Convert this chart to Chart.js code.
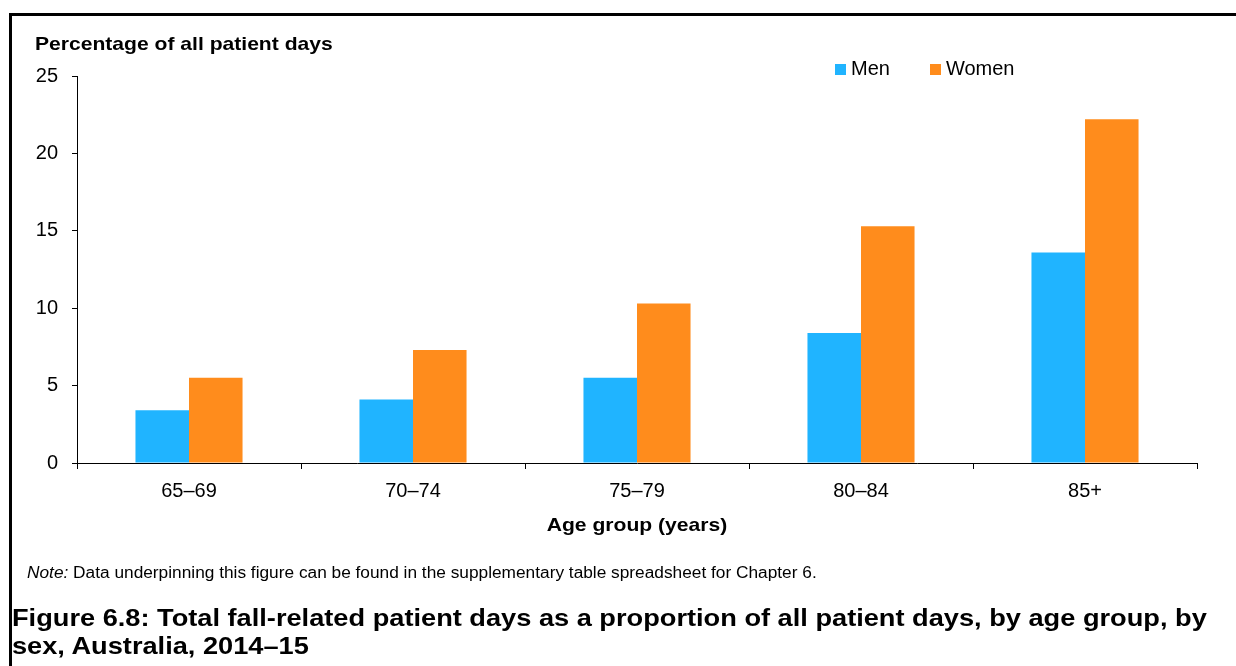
<!DOCTYPE html>
<html>
<head>
<meta charset="utf-8">
<script src="https://cdn.jsdelivr.net/npm/chart.js@4/dist/chart.umd.min.js"></script>
<style>
  html, body { margin: 0; padding: 0; background: #fff; }
  body { width: 1236px; height: 666px; position: relative; overflow: hidden;
         font-family: "Liberation Sans", Arial, sans-serif; color: #000; }
  #chart { position: absolute; left: 0; top: 0; }
  .frame { position: absolute; left: 9px; top: 13px; right: 0; bottom: 0;
           border-top: 3px solid #000; border-left: 3px solid #000; }
  .txt { position: absolute; white-space: nowrap; }
  .wide { transform: scaleX(1.11); transform-origin: left top; }
  .y-title { left: 35px; top: 34px; font: bold 19px/19px "Liberation Sans", Arial, sans-serif; }
  .x-title { left: 637px; top: 515px; font: bold 19px/19px "Liberation Sans", Arial, sans-serif;
             transform: translateX(-50%) scaleX(1.11); transform-origin: center top; }
  .note { left: 27px; top: 564px; font: 17.3px/17px "Liberation Sans", Arial, sans-serif; }
  .fig-title { left: 12px; top: 604px; font: bold 24.5px/28px "Liberation Sans", Arial, sans-serif; }
  #legend { position: absolute; left: 835px; top: 58px; display: flex; gap: 40px;
            font: 20px/20px "Liberation Sans", Arial, sans-serif; }
  #legend .item { display: flex; align-items: center; }
  #legend .box { width: 11px; height: 11px; margin-right: 5px; margin-top: 2px; }
</style>
</head>
<body>
<canvas id="chart" width="1236" height="666"></canvas>
<div class="frame"></div>
<div class="txt wide y-title">Percentage of all patient days</div>
<div id="legend"></div>
<div class="txt x-title">Age group (years)</div>
<div class="txt note"><i>Note:</i> Data underpinning this figure can be found in the supplementary table spreadsheet for Chapter 6.</div>
<div class="txt wide fig-title">Figure 6.8: Total fall-related patient days as a proportion of all patient days, by age group, by<br>sex, Australia, 2014–15</div>

<script>
const ageGroups = ['65–69', '70–74', '75–79', '80–84', '85+'];
const men = [3.4, 4.1, 5.5, 8.4, 13.6];
const women = [5.5, 7.3, 10.3, 15.3, 22.2];
const yTicks = [0, 5, 10, 15, 20, 25];

const tickFont = { family: '"Liberation Sans", Arial, sans-serif', size: 20 };

const chart = new Chart(document.getElementById('chart'), {
    type: 'bar',
    data: {
        labels: ageGroups,
        datasets: [
            { label: 'Men', data: men, backgroundColor: '#20B4FF' },
            { label: 'Women', data: women, backgroundColor: '#FF8C1C' },
        ],
    },
    options: {
        responsive: false,
        animation: false,
        devicePixelRatio: 1,
        barPercentage: 1,
        categoryPercentage: 0.478,
        layout: { padding: { left: 10, top: 76, right: 39, bottom: 159 } },
        plugins: {
            legend: { display: false },
            tooltip: { enabled: false },
        },
        scales: {
            x: {
                grid: { display: true, drawOnChartArea: false, offset: true, tickLength: 6, color: '#000' },
                border: { display: true, color: '#000', width: 1 },
                ticks: { color: '#000', font: tickFont, padding: 10, maxRotation: 0 },
                afterFit: (scale) => { scale.height = 44; },
            },
            y: {
                min: yTicks[0],
                max: yTicks[yTicks.length - 1],
                afterBuildTicks: (scale) => { scale.ticks = yTicks.map((v) => ({ value: v })); },
                grid: { display: true, drawOnChartArea: false, tickLength: 5, color: '#000' },
                border: { display: true, color: '#000', width: 1 },
                ticks: { color: '#000', font: tickFont, padding: 14 },
                afterFit: (scale) => { scale.width = 67; },
            },
        },
    },
});

// legend built from the datasets
const legend = document.getElementById('legend');
chart.data.datasets.forEach((ds) => {
    const item = document.createElement('div');
    item.className = 'item';
    const box = document.createElement('span');
    box.className = 'box';
    box.style.background = ds.backgroundColor;
    const label = document.createElement('span');
    label.textContent = ds.label;
    item.append(box, label);
    legend.append(item);
});
</script>
</body>
</html>
